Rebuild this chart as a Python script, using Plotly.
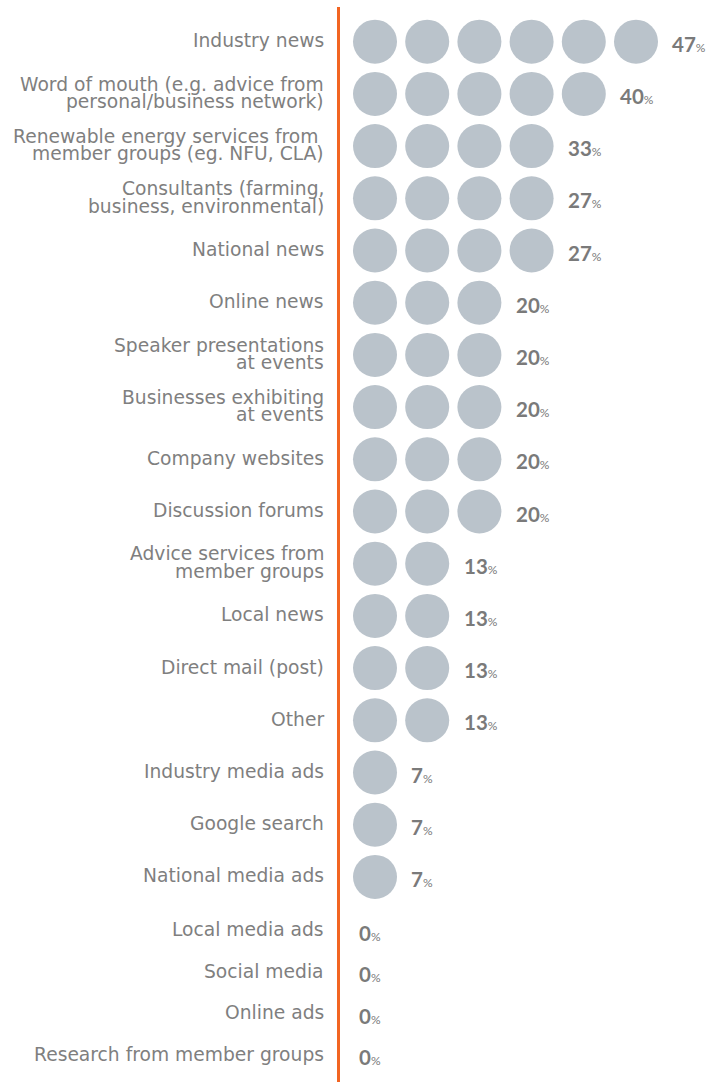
import plotly.graph_objects as go

# ---- data ----
categories = [
    "Industry news",
    "Word of mouth (e.g. advice from\npersonal/business network)",
    "Renewable energy services from \nmember groups (eg. NFU, CLA)",
    "Consultants (farming,\nbusiness, environmental)",
    "National news",
    "Online news",
    "Speaker presentations\nat events",
    "Businesses exhibiting\nat events",
    "Company websites",
    "Discussion forums",
    "Advice services from\nmember groups",
    "Local news",
    "Direct mail (post)",
    "Other",
    "Industry media ads",
    "Google search",
    "National media ads",
    "Local media ads",
    "Social media",
    "Online ads",
    "Research from member groups",
]
values = [47, 40, 33, 27, 27, 20, 20, 20, 20, 20, 13, 13, 13, 13, 7, 7, 7, 0, 0, 0, 0]
circle_counts = [6, 5, 4, 4, 4, 3, 3, 3, 3, 3, 2, 2, 2, 2, 1, 1, 1, 0, 0, 0, 0]

# ---- layout constants ----
W, H = 710, 1082
STEP = 52.2            # px between circle centres
FIRST_X = 375          # px centre of first circle
TOP_Y = 41.7           # px centre of first row
ZERO_GAP0 = 54         # gap from last circle row to first empty row
ZERO_GAP = 41.5        # gap between empty rows
LABEL_RIGHT = 326      # px right edge of category labels
LINE_X = 338.5
GREY_TEXT = "#7f7f7f"
CIRCLE = "#bac3cb"
ORANGE = "#f26522"

row_y = []
y = TOP_Y
prev_has = True
for i, n in enumerate(circle_counts):
    if i > 0:
        y += STEP if n > 0 else (ZERO_GAP0 if prev_has else ZERO_GAP)
    row_y.append(y)
    prev_has = n > 0

xa = 1 - FIRST_X / STEP
xb = xa + W / STEP

xs, ys = [], []
for i, n in enumerate(circle_counts):
    for k in range(1, n + 1):
        xs.append(k)
        ys.append(row_y[i])

fig = go.Figure()
fig.add_trace(go.Scatter(
    x=xs, y=ys, mode="markers",
    marker=dict(size=44, color=CIRCLE, line=dict(width=0)),
    hoverinfo="skip", showlegend=False,
))

annotations = []
LINE_H = 17.5
for i, cat in enumerate(categories):
    lines = cat.split("\n")
    nl = len(lines)
    for j, ln in enumerate(lines):
        off = (j - (nl - 1) / 2) * LINE_H
        annotations.append(dict(
            x=LABEL_RIGHT / W, xref="paper", y=row_y[i] + off - 1, yref="y",
            text=ln, showarrow=False, xanchor="right", yanchor="middle",
            font=dict(family="DejaVu Sans", size=18.7, color=GREY_TEXT),
        ))
    annotations.append(dict(
        x=circle_counts[i] + 0.66, xref="x", y=row_y[i] + 2, yref="y",
        text=f"<b>{values[i]}</b><span style='font-size:12px'>%</span>",
        showarrow=False, xanchor="left", yanchor="middle",
        font=dict(family="Lato", size=20.5, color="#7a7a7a"),
    ))

fig.update_layout(
    width=W, height=H,
    margin=dict(l=0, r=0, t=0, b=0),
    paper_bgcolor="white", plot_bgcolor="white",
    xaxis=dict(range=[xa, xb], visible=False, fixedrange=True),
    yaxis=dict(range=[H, 0], visible=False, fixedrange=True),
    annotations=annotations,
    shapes=[dict(type="line", xref="paper", yref="paper",
                 x0=LINE_X / W, x1=LINE_X / W, y0=0, y1=1 - 7 / H,
                 line=dict(color=ORANGE, width=3))],
    showlegend=False,
)

fig.write_html("out.html")
